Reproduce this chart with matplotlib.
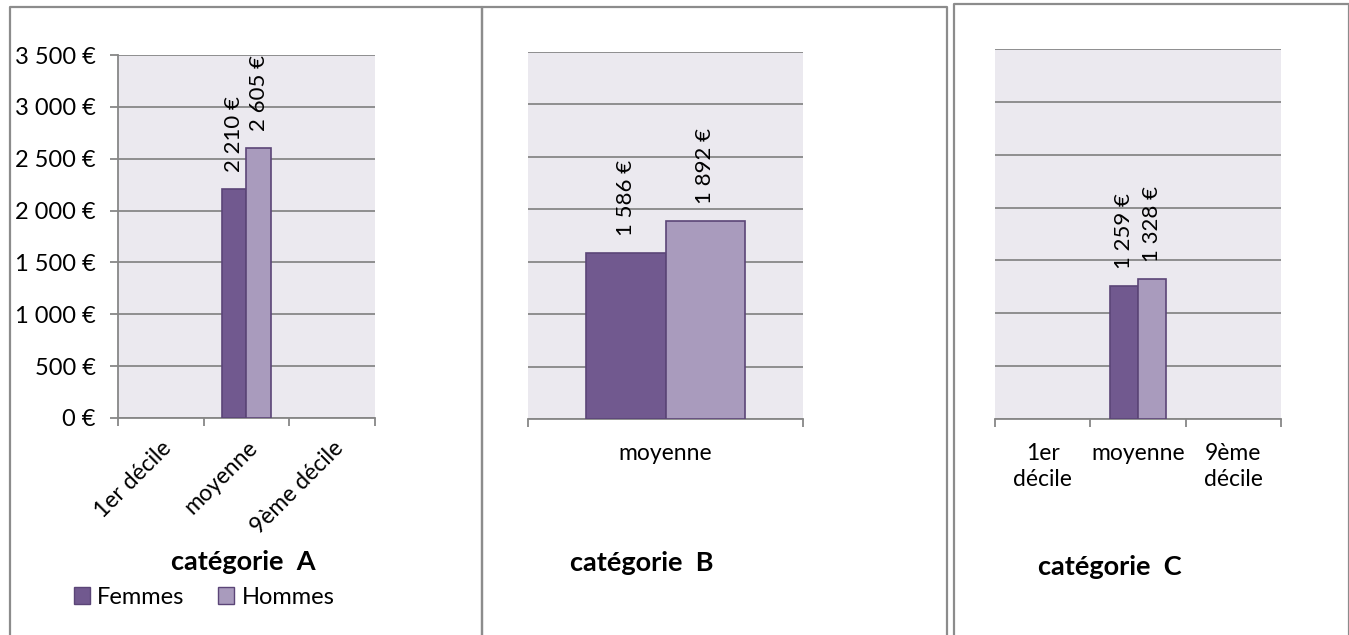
import numpy as np
import matplotlib
matplotlib.use("Agg")
import matplotlib.pyplot as plt
from matplotlib.lines import Line2D
from matplotlib.patches import Patch
from matplotlib.ticker import FuncFormatter

# salaires mensuels par catégorie
cats_a = ["1er décile", "moyenne", "9ème décile"]
femmes_a = [np.nan, 2210, np.nan]
hommes_a = [np.nan, 2605, np.nan]

cats_b = ["moyenne"]
femmes_b = [1586]
hommes_b = [1892]

cats_c = ["1er\ndécile", "moyenne", "9ème\ndécile"]
femmes_c = [np.nan, 1259, np.nan]
hommes_c = [np.nan, 1328, np.nan]

titles = ["catégorie  A", "catégorie  B", "catégorie  C"]
series = ["Femmes", "Hommes"]
y_ticks = list(range(0, 3501, 500))

W, H = 1349, 635
plt.rcParams['font.family'] = ['Lato', 'DejaVu Sans']

COL_F = "#71598f"
COL_H = "#a99bbd"
EDGE = "#5b4577"
GRID = "#878787"
BG = "#ebe9ef"
FRAME = "#8c8c8c"


def euro(v, pos=None):
    return f"{v:,.0f}".replace(",", " ") + " €"


def px_axes(fig, x0, y0, x1, y1):
    return fig.add_axes([x0 / W, 1 - y1 / H, (x1 - x0) / W, (y1 - y0) / H])


def draw_panel(ax, cats, fem, hom, show_y, rot):
    n = len(cats)
    x = np.arange(n)
    w = 0.29
    ax.set_facecolor(BG)
    ax.bar(x - w / 2, fem, w, color=COL_F, edgecolor=EDGE, linewidth=1.2, zorder=3)
    ax.bar(x + w / 2, hom, w, color=COL_H, edgecolor=EDGE, linewidth=1.2, zorder=3)
    for xs, vals in ((x - w / 2, fem), (x + w / 2, hom)):
        for xi, v in zip(xs, vals):
            if np.isnan(v):
                continue
            ax.annotate(euro(v), xy=(xi, v), xytext=(0, 12), textcoords="offset points",
                        rotation=90, ha="center", va="bottom", fontsize=16, zorder=4)
    ax.set_xlim(-0.5, n - 0.5)
    ax.set_ylim(0, 3500)
    ax.set_yticks(y_ticks)
    ax.yaxis.grid(True, color=GRID, linewidth=1.3, zorder=1)
    ax.set_axisbelow(True)
    for s in ("top", "right"):
        ax.spines[s].set_visible(False)
    ax.spines["bottom"].set_color(GRID)
    ax.spines["bottom"].set_linewidth(1.3)
    if show_y:
        ax.spines["left"].set_color(GRID)
        ax.spines["left"].set_linewidth(1.3)
        ax.yaxis.set_major_formatter(FuncFormatter(euro))
        ax.tick_params(axis="y", length=6, width=1.3, color=GRID, labelsize=17, pad=10)
    else:
        ax.spines["left"].set_visible(False)
        ax.tick_params(axis="y", length=0, labelleft=False)
    # category boundaries as ticks, names in between
    ax.set_xticks(np.arange(n + 1) - 0.5)
    ax.set_xticklabels([])
    ax.tick_params(axis="x", which="major", length=6, width=1.3, color=GRID)
    ax.set_xticks(x, minor=True)
    if rot:
        ax.set_xticklabels(cats, minor=True, rotation=45, ha="right",
                           rotation_mode="anchor", fontsize=16.5)
        ax.tick_params(axis="x", which="minor", length=0, pad=14)
    else:
        ax.set_xticklabels(cats, minor=True, fontsize=16.5, linespacing=1.3)
        ax.tick_params(axis="x", which="minor", length=0, pad=17)


fig = plt.figure(figsize=(W / 100, H / 100), dpi=100)

ax_a = px_axes(fig, 118, 55, 375, 418)
draw_panel(ax_a, cats_a, femmes_a, hommes_a, True, True)
ax_b = px_axes(fig, 528, 52, 803, 419)
draw_panel(ax_b, cats_b, femmes_b, hommes_b, False, False)
ax_c = px_axes(fig, 995, 49, 1281, 419)
draw_panel(ax_c, cats_c, femmes_c, hommes_c, False, False)

for (tx, ty), t in zip([(243, 562), (642, 563), (1110, 567)], titles):
    fig.text(tx / W, 1 - ty / H, t, ha="center", va="center",
             fontsize=19.5, fontweight="bold")

handles = [Patch(facecolor=COL_F, edgecolor=EDGE), Patch(facecolor=COL_H, edgecolor=EDGE)]
fig.legend(handles, series, loc="center", bbox_to_anchor=(204 / W, 1 - 597 / H),
           ncol=2, frameon=False, fontsize=17, handlelength=0.7, handleheight=0.7,
           handletextpad=0.3, columnspacing=1.4)

# panel frames
frames = [(10, 7, 482), (482, 7, 947), (954, 4, 1349)]
for x0, y0, x1 in frames:
    xs = [x0 / W, x0 / W, x1 / W, x1 / W]
    ys = [0, 1 - y0 / H, 1 - y0 / H, 0]
    fig.add_artist(Line2D(xs, ys, color=FRAME, linewidth=1.6, transform=fig.transFigure))

fig.savefig("out.png", dpi=100, facecolor="white")
